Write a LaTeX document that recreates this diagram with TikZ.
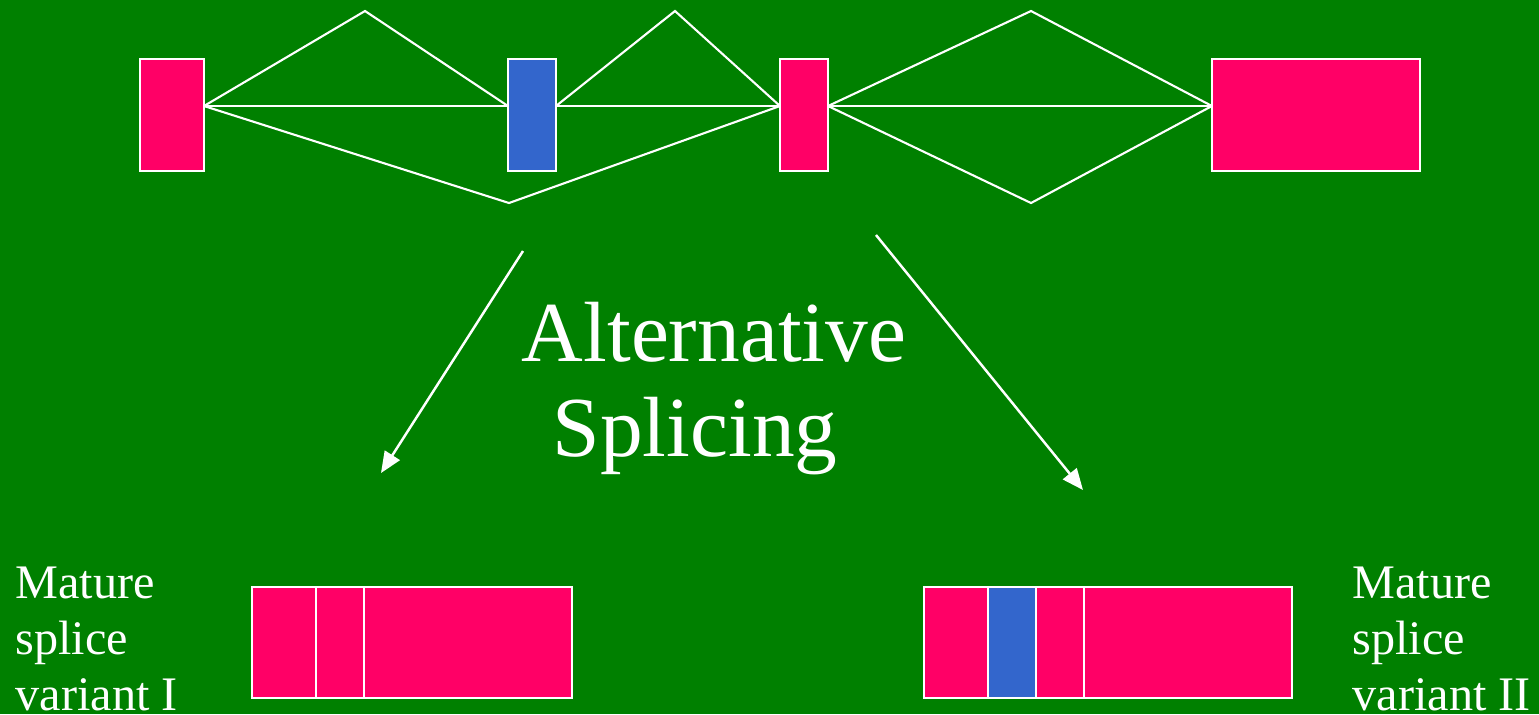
\documentclass[tikz,border=0pt]{standalone}
\usepackage{fontspec}
\setmainfont{Liberation Serif}
\usetikzlibrary{arrows.meta}
\definecolor{bg}{HTML}{008000}
\definecolor{exonpink}{HTML}{FF0066}
\definecolor{exonblue}{HTML}{3366CC}
\begin{document}
\begin{tikzpicture}[x=0.01cm,y=-0.01cm,
  exon/.style={draw=white,line width=0.6pt,inner sep=0pt,outer sep=0pt,minimum height=1.12cm},
  pinkexon/.style={exon,fill=exonpink},
  blueexon/.style={exon,fill=exonblue},
  matpink/.style={pinkexon,minimum height=1.11cm,anchor=west},
  matblue/.style={blueexon,minimum height=1.11cm,anchor=west},
  intron/.style={draw=white,line width=0.6pt,line join=miter},
  arr/.style={draw=white,line width=0.7pt,-{Triangle[length=6pt,width=5pt]}},
  label/.style={text=white,inner sep=0pt,align=left,anchor=north west,font=\fontsize{13.7}{16}\selectfont},
  big/.style={text=white,inner sep=0pt,anchor=base,font=\fontsize{24.3}{27}\selectfont}]
\fill[bg] (0,0) rectangle (1539,714);
\useasboundingbox (0,0) rectangle (1539,714);
% pre-mRNA exons
\coordinate (sp) at (0,106);
\node[pinkexon,minimum width=0.64cm] (e1) at (172,115) {};
\node[blueexon,minimum width=0.48cm] (e2) at (532,115) {};
\node[pinkexon,minimum width=0.48cm] (e3) at (804,115) {};
\node[pinkexon,minimum width=2.08cm] (e4) at (1316,115) {};
% peaks
\coordinate (p1) at (365,11);
\coordinate (p2) at (675,11);
\coordinate (p3) at (1031,11);
\coordinate (v1) at (509,203);
\coordinate (v2) at (1031,203);
% introns
\draw[intron] (e1.east |- sp) -- (p1) -- (e2.west |- sp);
\draw[intron] (e1.east |- sp) -- (e2.west |- sp);
\draw[intron] (e1.east |- sp) -- (v1) -- (e3.west |- sp);
\draw[intron] (e2.east |- sp) -- (p2) -- (e3.west |- sp);
\draw[intron] (e2.east |- sp) -- (e3.west |- sp);
\draw[intron] (e3.east |- sp) -- (p3) -- (e4.west |- sp);
\draw[intron] (e3.east |- sp) -- (e4.west |- sp);
\draw[intron] (e3.east |- sp) -- (v2) -- (e4.west |- sp);
% arrows
\coordinate (s1) at (523,251);
\coordinate (t1) at (381,473);
\coordinate (s2) at (876,235);
\coordinate (t2) at (1083,490);
\draw[arr] (s1) -- (t1);
\draw[arr] (s2) -- (t2);
% title
\node[big] (alt) at (714,361) {Alternative};
\node[big] (spl) at (695,456) {Splicing};
% mature variant I
\node[matpink,minimum width=0.64cm] (a1) at (252,642.5) {};
\node[matpink,minimum width=0.48cm] (a2) at (a1.east) {};
\node[matpink,minimum width=2.08cm] (a3) at (a2.east) {};
% mature variant II
\node[matpink,minimum width=0.64cm] (b1) at (924,642.5) {};
\node[matblue,minimum width=0.48cm] (b2) at (b1.east) {};
\node[matpink,minimum width=0.48cm] (b3) at (b2.east) {};
\node[matpink,minimum width=2.08cm] (b4) at (b3.east) {};
% labels
\node[label] (l1) at (15,566) {Mature\\splice\\variant I};
\node[label] (l2) at (1352,566) {Mature\\splice\\variant II};
\end{tikzpicture}
\end{document}
